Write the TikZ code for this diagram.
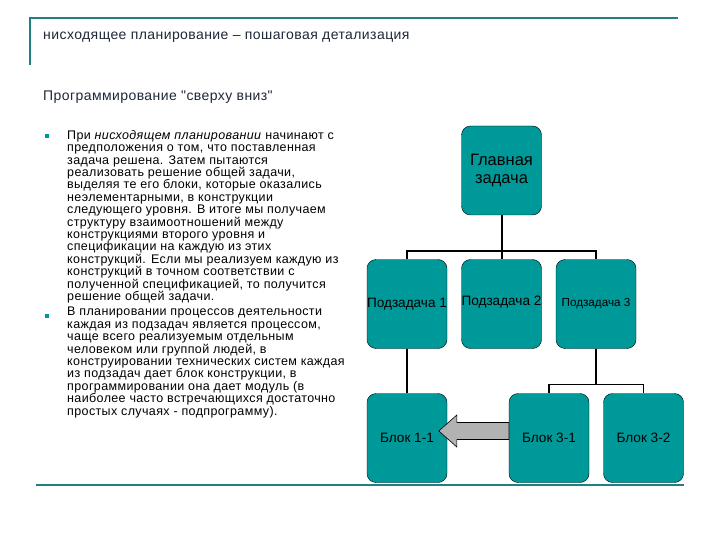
\documentclass[tikz,border=0pt]{standalone}
\usepackage{fontspec}
\setmainfont{Liberation Sans}
\newfontfamily\widefont[LetterSpace=3]{Liberation Sans}
\definecolor{boxteal}{RGB}{0,153,153}
\definecolor{lineteal}{RGB}{30,128,128}
\definecolor{titlegray}{RGB}{30,40,55}
\tikzset{
  box/.style={draw=black, fill=boxteal, rounded corners=9pt, minimum width=80pt,
    minimum height=89pt, inner sep=0pt, align=center, font=\fontsize{13.6}{15}\selectfont},
  link/.style={line width=2pt},
  bullet/.style={fill=boxteal, minimum size=4.5pt, inner sep=0pt},
  para/.style={anchor=north west, inner sep=0pt, align=left,
    font=\widefont\fontsize{12.5}{12.4}\selectfont},
  head/.style={anchor=west, inner sep=0pt, titlegray, font=\widefont\fontsize{14}{16}\selectfont}
}
\begin{document}
\begin{tikzpicture}[x=1pt, y=-1pt]
\useasboundingbox (0,0) rectangle (720,540);
% frame
\draw[lineteal, line width=2pt] (29.5,65) -- (29.5,18) -- (678,18);
\draw[lineteal, line width=2pt] (36,485) -- (684,485);
\node[head] (title) at (43,37) {нисходящее планирование – пошаговая детализация};
\node[head] (sub) at (43,97) {Программирование "сверху вниз"};
% text
\node[bullet] (d1) at (47,136) {};
\node[bullet] (d2) at (47,316) {};
\node[para] (p1) at (67,130) {При \textit{нисходящем планировании} начинают с\\
предположения о том, что поставленная\\
задача решена. Затем пытаются\\
реализовать решение общей задачи,\\
выделяя те его блоки, которые оказались\\
неэлементарными, в конструкции\\
следующего уровня. В итоге мы получаем\\
структуру взаимоотношений между\\
конструкциями второго уровня и\\
спецификации на каждую из этих\\
конструкций. Если мы реализуем каждую из\\
конструкций в точном соответствии с\\
полученной спецификацией, то получится\\
решение общей задачи.};
\node[para] (p2) at (67,307) {В планировании процессов деятельности\\
каждая из подзадач является процессом,\\
чаще всего реализуемым отдельным\\
человеком или группой людей, в\\
конструировании технических систем каждая\\
из подзадач дает блок конструкции, в\\
программировании она дает модуль (в\\
наиболее часто встречающихся достаточно\\
простых случаях - подпрограмму).};
% tree
\node[box, font=\fontsize{16.5}{18.5}\selectfont] (main) at (501.5,170.5) {Главная\\задача};
\node[box] (s1) at (407,304) {Подзадача 1};
\node[box] (s2) at (501.5,304) {\raisebox{7pt}{Подзадача 2}};
\node[box, font=\fontsize{11.7}{13}\selectfont] (s3) at (596,304) {Подзадача 3};
\node[box] (b11) at (407,438) {Блок 1-1};
\node[box] (b31) at (549,438) {Блок 3-1};
\node[box] (b32) at (643.5,438) {Блок 3-2};
\draw[link] (main.south) -- ++(0,36) -| (s1.north);
\draw[link] (main.south) -- ++(0,36) -| (s3.north);
\draw[link] (main.south) -- (s2.north);
\draw[link] (s1.south) -- (b11.north);
\draw[line width=1.5pt] (s3.south) -- ++(0,36) -| (b31.north);
\draw[line width=1.5pt] (s3.south) -- ++(0,36) -| (b32.north);
% arrow
\draw[fill=black!30, line width=0.6pt] (b31.west) ++(0,1.5) -- ++(-52,0) -- ++(0,7.5)
  -- ++(-18,-16) -- ++(18,-16) -- ++(0,7.5) -- ++(52,0) -- cycle;
\end{tikzpicture}
\end{document}
